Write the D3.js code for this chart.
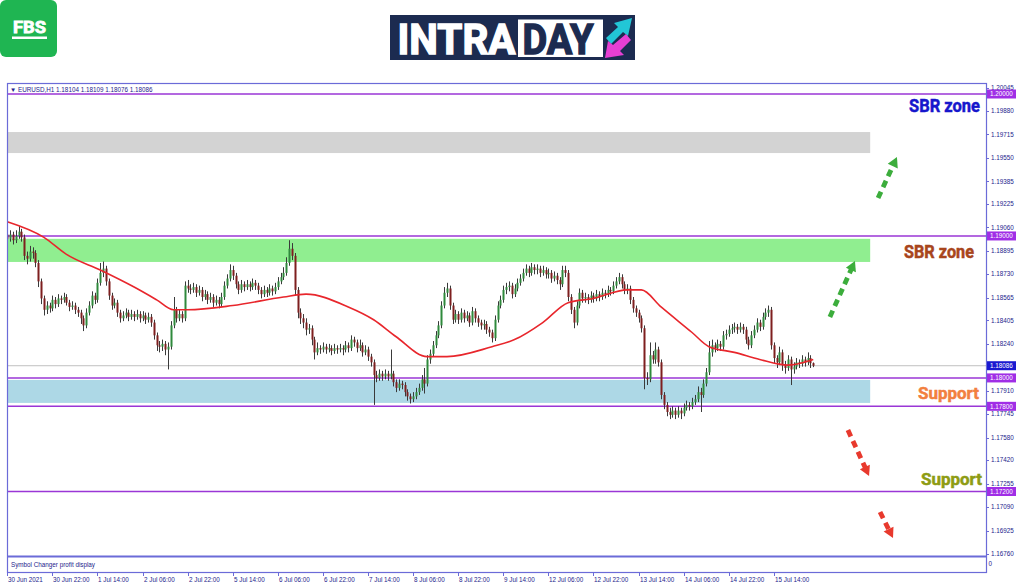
<!DOCTYPE html>
<html>
<head>
<meta charset="utf-8">
<script src="https://cdn.jsdelivr.net/npm/d3@7"></script>
<style>
  body { margin: 0; background: #fff; }
  svg { display: block; font-family: "Liberation Sans", Arial, sans-serif; }
  .axis-text { font-size: 6.3px; fill: #24248c; }
  .note { font-family: Roboto, "Liberation Sans", sans-serif; font-weight: 700; }
</style>
</head>
<body>
<svg width="1024" height="587"></svg>
<script>
"use strict";

// EURUSD H1, 30 Jun 2021 -> 16 Jul 2021
const firstOpen = 1.1901;
const closes = [
  1.1898,1.1901,1.1897,1.1900,1.1903,1.1899,1.1886,1.1884,1.1889,1.1888,
  1.1881,1.1868,1.1856,1.1848,1.1851,1.1849,1.1855,1.1852,1.1856,1.1855,
  1.1857,1.1853,1.1850,1.1851,1.1848,1.1846,1.1842,1.1837,1.1846,1.1851,
  1.1858,1.1855,1.1867,1.1874,1.1877,1.1868,1.1858,1.1851,1.1853,1.1846,
  1.1842,1.1844,1.1846,1.1843,1.1845,1.1843,1.1845,1.1842,1.1844,1.1841,
  1.1843,1.1839,1.1830,1.1823,1.1822,1.1824,1.1820,1.1822,1.1837,1.1848,
  1.1842,1.1845,1.1842,1.1865,1.1863,1.1862,1.1864,1.1860,1.1862,1.1857,
  1.1859,1.1855,1.1857,1.1853,1.1855,1.1852,1.1857,1.1865,1.1870,1.1876,
  1.1872,1.1866,1.1862,1.1866,1.1864,1.1866,1.1864,1.1867,1.1865,1.1862,
  1.1859,1.1862,1.1860,1.1863,1.1861,1.1864,1.1868,1.1871,1.1874,1.1881,
  1.1891,1.1886,1.1862,1.1846,1.1842,1.1839,1.1834,1.1835,1.1827,1.1818,
  1.1821,1.1820,1.1822,1.1820,1.1821,1.1819,1.1821,1.1820,1.1821,1.1820,
  1.1823,1.1821,1.1827,1.1825,1.1821,1.1823,1.1818,1.1820,1.1815,1.1811,
  1.1802,1.1800,1.1803,1.1801,1.1803,1.1801,1.1803,1.1797,1.1793,1.1796,
  1.1795,1.1790,1.1787,1.1785,1.1787,1.1790,1.1793,1.1799,1.1796,1.1813,
  1.1817,1.1823,1.1830,1.1837,1.1851,1.1860,1.1863,1.1851,1.1841,1.1845,
  1.1841,1.1846,1.1842,1.1844,1.1839,1.1847,1.1842,1.1839,1.1837,1.1838,
  1.1834,1.1832,1.1828,1.1841,1.1851,1.1855,1.1862,1.1864,1.1865,1.1859,
  1.1863,1.1867,1.1870,1.1874,1.1877,1.1874,1.1878,1.1876,1.1877,1.1874,
  1.1876,1.1873,1.1874,1.1870,1.1872,1.1869,1.1866,1.1876,1.1874,1.1857,
  1.1848,1.1839,1.1851,1.1860,1.1856,1.1857,1.1855,1.1858,1.1856,1.1859,
  1.1857,1.1860,1.1859,1.1862,1.1861,1.1865,1.1868,1.1871,1.1866,1.1862,
  1.1863,1.1855,1.1849,1.1846,1.1842,1.1835,1.1800,1.1799,1.1816,1.1813,
  1.1820,1.1811,1.1788,1.1781,1.1776,1.1774,1.1777,1.1774,1.1777,1.1775,
  1.1779,1.1781,1.1780,1.1783,1.1785,1.1790,1.1788,1.1796,1.1804,1.1818,
  1.1823,1.1821,1.1824,1.1822,1.1830,1.1831,1.1834,1.1835,1.1836,1.1834,
  1.1836,1.1834,1.1827,1.1823,1.1830,1.1834,1.1839,1.1836,1.1843,1.1846,
  1.1848,1.1823,1.1814,1.1811,1.1818,1.1809,1.1807,1.1813,1.1806,1.1808,
  1.1811,1.1810,1.1813,1.1811,1.1814,1.18104,1.18086
];
const highs = [
  1.1904,1.1904,1.1903,1.1904,1.1907,1.1905,1.1901,1.1889,1.1893,1.1892,
  1.1890,1.1883,1.1870,1.1858,1.1854,1.1853,1.1858,1.1857,1.1859,1.1858,
  1.1860,1.1859,1.1855,1.1854,1.1853,1.1850,1.1848,1.1844,1.1849,1.1854,
  1.1861,1.1860,1.1870,1.1881,1.1882,1.1879,1.1870,1.1860,1.1856,1.1855,
  1.1848,1.1847,1.1849,1.1848,1.1848,1.1847,1.1848,1.1847,1.1847,1.1846,
  1.1846,1.1845,1.1841,1.1832,1.1826,1.1827,1.1826,1.1825,1.1840,1.1857,
  1.1850,1.1848,1.1847,1.1868,1.1869,1.1866,1.1867,1.1866,1.1865,1.1864,
  1.1862,1.1861,1.1860,1.1859,1.1858,1.1857,1.1860,1.1868,1.1873,1.1880,
  1.1879,1.1874,1.1868,1.1869,1.1868,1.1869,1.1868,1.1870,1.1869,1.1867,
  1.1864,1.1865,1.1864,1.1866,1.1865,1.1867,1.1871,1.1874,1.1878,1.1885,
  1.1897,1.1895,1.1888,1.1864,1.1849,1.1845,1.1842,1.1838,1.1837,1.1829,
  1.1825,1.1823,1.1825,1.1824,1.1824,1.1823,1.1824,1.1823,1.1824,1.1823,
  1.1826,1.1825,1.1830,1.1829,1.1827,1.1827,1.1825,1.1823,1.1822,1.1817,
  1.1813,1.1805,1.1806,1.1805,1.1806,1.1805,1.1820,1.1805,1.1799,1.1799,
  1.1798,1.1797,1.1792,1.1789,1.1790,1.1793,1.1796,1.1802,1.1807,1.1816,
  1.1820,1.1826,1.1833,1.1840,1.1854,1.1864,1.1867,1.1865,1.1853,1.1848,
  1.1847,1.1849,1.1848,1.1847,1.1846,1.1850,1.1849,1.1844,1.1841,1.1841,
  1.1840,1.1836,1.1834,1.1844,1.1854,1.1858,1.1865,1.1867,1.1868,1.1867,
  1.1866,1.1870,1.1873,1.1877,1.1880,1.1879,1.1881,1.1880,1.1880,1.1879,
  1.1879,1.1878,1.1877,1.1876,1.1875,1.1874,1.1871,1.1879,1.1879,1.1876,
  1.1859,1.1850,1.1854,1.1863,1.1862,1.1860,1.1859,1.1861,1.1860,1.1862,
  1.1861,1.1863,1.1862,1.1865,1.1864,1.1868,1.1871,1.1874,1.1873,1.1868,
  1.1866,1.1865,1.1857,1.1851,1.1848,1.1844,1.1837,1.1804,1.1825,1.1819,
  1.1825,1.1822,1.1813,1.1790,1.1783,1.1779,1.1780,1.1779,1.1780,1.1779,
  1.1782,1.1784,1.1783,1.1786,1.1788,1.1794,1.1793,1.1799,1.1807,1.1826,
  1.1827,1.1825,1.1827,1.1826,1.1833,1.1834,1.1837,1.1838,1.1839,1.1838,
  1.1839,1.1838,1.1836,1.1829,1.1833,1.1837,1.1842,1.1841,1.1846,1.1849,
  1.1851,1.1850,1.1825,1.1816,1.1822,1.1820,1.1812,1.1816,1.1815,1.1811,
  1.1814,1.1813,1.1816,1.1815,1.1818,1.1816,1.18109
];
const lows = [
  1.1895,1.1896,1.1894,1.1895,1.1898,1.1896,1.1883,1.1880,1.1882,1.1884,
  1.1878,1.1864,1.1852,1.1844,1.1845,1.1846,1.1847,1.1849,1.1850,1.1852,
  1.1853,1.1851,1.1847,1.1848,1.1845,1.1843,1.1838,1.1833,1.1835,1.1844,
  1.1849,1.1852,1.1853,1.1865,1.1871,1.1865,1.1855,1.1848,1.1849,1.1843,
  1.1839,1.1840,1.1842,1.1840,1.1841,1.1840,1.1841,1.1839,1.1840,1.1838,
  1.1839,1.1836,1.1827,1.1819,1.1818,1.1819,1.1816,1.1806,1.1820,1.1835,
  1.1839,1.1840,1.1839,1.1840,1.1860,1.1859,1.1860,1.1857,1.1858,1.1854,
  1.1855,1.1852,1.1853,1.1850,1.1851,1.1849,1.1850,1.1855,1.1863,1.1868,
  1.1869,1.1863,1.1859,1.1860,1.1861,1.1862,1.1861,1.1862,1.1862,1.1859,
  1.1856,1.1857,1.1857,1.1858,1.1858,1.1859,1.1862,1.1866,1.1869,1.1872,
  1.1879,1.1883,1.1858,1.1842,1.1838,1.1835,1.1830,1.1831,1.1823,1.1813,
  1.1816,1.1817,1.1818,1.1817,1.1818,1.1816,1.1817,1.1817,1.1818,1.1816,
  1.1818,1.1818,1.1819,1.1822,1.1818,1.1819,1.1815,1.1816,1.1812,1.1808,
  1.1781,1.1797,1.1798,1.1798,1.1799,1.1798,1.1799,1.1794,1.1790,1.1791,
  1.1792,1.1787,1.1784,1.1782,1.1783,1.1785,1.1788,1.1791,1.1789,1.1794,
  1.1810,1.1815,1.1821,1.1828,1.1835,1.1849,1.1857,1.1848,1.1838,1.1839,
  1.1838,1.1839,1.1839,1.1840,1.1836,1.1837,1.1839,1.1836,1.1834,1.1834,
  1.1831,1.1829,1.1825,1.1826,1.1839,1.1849,1.1853,1.1859,1.1861,1.1856,
  1.1857,1.1861,1.1865,1.1868,1.1872,1.1871,1.1872,1.1873,1.1873,1.1871,
  1.1872,1.1870,1.1870,1.1867,1.1868,1.1866,1.1862,1.1864,1.1871,1.1854,
  1.1845,1.1835,1.1837,1.1849,1.1853,1.1853,1.1852,1.1853,1.1853,1.1854,
  1.1854,1.1855,1.1856,1.1857,1.1858,1.1859,1.1863,1.1866,1.1863,1.1859,
  1.1859,1.1852,1.1846,1.1843,1.1839,1.1832,1.1792,1.1795,1.1797,1.1810,
  1.1810,1.1808,1.1785,1.1778,1.1773,1.1771,1.1772,1.1771,1.1772,1.1771,
  1.1773,1.1777,1.1777,1.1778,1.1781,1.1783,1.1776,1.1786,1.1794,1.1802,
  1.1815,1.1818,1.1819,1.1819,1.1820,1.1827,1.1829,1.1831,1.1832,1.1831,
  1.1832,1.1831,1.1824,1.1820,1.1821,1.1828,1.1832,1.1833,1.1834,1.1841,
  1.1843,1.1820,1.1810,1.1807,1.1809,1.1805,1.1803,1.1805,1.1795,1.1803,
  1.1806,1.1807,1.1808,1.1808,1.1809,1.1807,1.18076
];

// moving average (red), read at some bars
const maIndex = [0, 13, 21, 33, 45, 53, 59, 64, 80, 98, 106, 121, 130, 138, 149, 156,
  172, 180, 190, 199, 208, 220, 225, 232, 243, 249, 258, 267, 277, 286];
const maValue = [1.1910, 1.1899, 1.1887, 1.1876, 1.1864, 1.1855, 1.1848, 1.1848, 1.1851,
  1.1857, 1.1859, 1.1850, 1.1841, 1.1829, 1.1815, 1.1815, 1.1822, 1.1827, 1.1839, 1.1853,
  1.1856, 1.1862, 1.1862, 1.1850, 1.1832, 1.1822, 1.1818, 1.1813, 1.1809, 1.1813];

const timeTickIndex = [0, 16, 32, 48, 64, 80, 96, 112, 128, 144, 160, 176, 192, 208, 224, 240, 256, 272];
const timeLabels = ["30 Jun 2021", "30 Jun 22:00", "1 Jul 14:00", "2 Jul 06:00", "2 Jul 22:00",
  "5 Jul 14:00", "6 Jul 06:00", "6 Jul 22:00", "7 Jul 14:00", "8 Jul 06:00", "8 Jul 22:00",
  "9 Jul 14:00", "12 Jul 06:00", "12 Jul 22:00", "13 Jul 14:00", "14 Jul 06:00",
  "14 Jul 22:00", "15 Jul 14:00"];
const priceTicks = [1.20045, 1.19880, 1.19715, 1.19550, 1.19385, 1.19225, 1.19060, 1.18895,
  1.18730, 1.18565, 1.18405, 1.18240, 1.17910, 1.17745, 1.17580, 1.17420, 1.17255,
  1.17090, 1.16925, 1.16760];
const levelPrices = [1.20000, 1.19000, 1.18000, 1.17800, 1.17200];
const currentPrice = 1.18086;
const header = "EURUSD,H1  1.18104 1.18109 1.18076 1.18086";

// zones: top / bottom price, right end (bar index)
const zoneTop = [1.19732, 1.18980, 1.17986];
const zoneBottom = [1.19584, 1.18817, 1.17824];
const zoneEnd = 306.2;

// annotations
const noteTexts = ["SBR zone", "SBR zone", "Support", "Support"];
const notePrices = [1.19873, 1.18845, 1.17852, 1.17246];
const arrowFrom = [[309.0, 1.19267], [291.9, 1.18429], [298.3, 1.17633], [309.7, 1.17056]];
const arrowTo = [[315.7, 1.19556], [300.8, 1.18824], [305.8, 1.17309], [314.3, 1.16872]];

const svg = d3.select("svg");
const frame = { left: 7, right: 986, top: 83, main: 556, sub: 572 };
const frameColor = "#6b6bd8";

const x = d3.scaleLinear().domain([0, 272]).range([7.3, 773.8]);
const y = d3.scaleLinear().domain([1.172, 1.2]).range([491.5, 94]);

// ---------- logos ----------
const fbs = svg.append("g");
fbs.append("rect").attr("x", 0).attr("y", 0).attr("width", 57).attr("height", 57)
  .attr("rx", 6).attr("fill", "#1fb552");
fbs.append("text").attr("x", 29.5).attr("y", 33).attr("text-anchor", "middle")
  .attr("fill", "#fff").attr("stroke", "#fff").attr("stroke-width", 0.8)
  .attr("font-family", "Roboto, sans-serif").attr("font-weight", 700)
  .attr("font-size", 17).attr("textLength", 33).attr("lengthAdjust", "spacingAndGlyphs").text("FBS");
fbs.append("rect").attr("x", 12).attr("y", 36.5).attr("width", 35).attr("height", 2.5).attr("fill", "#fff");

const intra = svg.append("g");
intra.append("rect").attr("x", 390).attr("y", 15).attr("width", 245).attr("height", 45).attr("fill", "#1c2b50");
intra.append("rect").attr("x", 518).attr("y", 19.5).attr("width", 85).attr("height", 37.5).attr("fill", "#fff");
intra.append("text").attr("x", 397.5).attr("y", 53.5).attr("fill", "#fff")
  .attr("stroke", "#fff").attr("stroke-width", 1.4)
  .attr("font-family", "Roboto, sans-serif").attr("font-weight", 700).attr("font-size", 42)
  .attr("textLength", 118).attr("lengthAdjust", "spacingAndGlyphs").text("INTRA");
intra.append("text").attr("x", 522.5).attr("y", 53.5).attr("fill", "#1c2b50")
  .attr("stroke", "#1c2b50").attr("stroke-width", 1.4)
  .attr("font-family", "Roboto, sans-serif").attr("font-weight", 700).attr("font-size", 42)
  .attr("textLength", 71).attr("lengthAdjust", "spacingAndGlyphs").text("DAY");
intra.append("polygon").attr("fill", "#22c6d6")
  .attr("points", "606,38 618,27 614,23 632,18 628,36 623,32 611,44");
intra.append("polygon").attr("fill", "#e63fd3")
  .attr("points", "631,40 620,51 624,55 605,58 608,41 613,45 626,34");

// ---------- chart ----------
svg.append("clipPath").attr("id", "plot-clip")
  .append("rect").attr("x", frame.left).attr("y", frame.top)
  .attr("width", frame.right - frame.left).attr("height", frame.main - frame.top);

const plot = svg.append("g").attr("clip-path", "url(#plot-clip)");
const zoneColors = ["#d3d3d3", "#90ee90", "#add8e6"];

plot.selectAll(".zone").data(zoneTop).enter().append("rect")
  .attr("class", "zone")
  .attr("x", frame.left)
  .attr("y", d => y(d))
  .attr("width", x(zoneEnd) - frame.left)
  .attr("height", (d, i) => y(zoneBottom[i]) - y(d))
  .attr("fill", (d, i) => zoneColors[i]);

plot.append("line")
  .attr("x1", frame.left).attr("x2", frame.right)
  .attr("y1", y(currentPrice)).attr("y2", y(currentPrice))
  .attr("stroke", "#c0c0c0").attr("stroke-width", 1);

plot.selectAll(".level").data(levelPrices).enter().append("line")
  .attr("class", "level")
  .attr("x1", frame.left).attr("x2", frame.right)
  .attr("y1", d => y(d)).attr("y2", d => y(d))
  .attr("stroke", "#9a36d6").attr("stroke-width", 1.6);

const candles = closes.map((c, i) => ({
  i,
  o: i === 0 ? firstOpen : closes[i - 1],
  h: highs[i],
  l: lows[i],
  c
}));

const cg = plot.append("g");
cg.selectAll(".wick").data(candles).enter().append("line")
  .attr("class", "wick")
  .attr("x1", d => Math.round(x(d.i)) + 0.5)
  .attr("x2", d => Math.round(x(d.i)) + 0.5)
  .attr("y1", d => y(d.h)).attr("y2", d => y(d.l))
  .attr("stroke", "#3a3a3a").attr("stroke-width", 1);

cg.selectAll(".body").data(candles).enter().append("rect")
  .attr("class", "body")
  .attr("x", d => Math.round(x(d.i)) - 0.5)
  .attr("width", 2)
  .attr("y", d => y(Math.max(d.o, d.c)))
  .attr("height", d => Math.max(1, Math.abs(y(d.o) - y(d.c))))
  .attr("fill", d => d.c >= d.o ? "#2f8a3c" : "#7e1f1f");

const maLine = d3.line()
  .x(d => x(d[0]))
  .y(d => y(d[1]))
  .curve(d3.curveMonotoneX);

plot.append("path")
  .datum(maIndex.map((d, i) => [d, maValue[i]]))
  .attr("d", maLine)
  .attr("fill", "none")
  .attr("stroke", "#e8262c")
  .attr("stroke-width", 1.6);

// dashed arrows
const arrowColors = ["#3cad3c", "#3cad3c", "#e8392d", "#e8392d"];
arrowFrom.forEach((f, k) => {
  const x0 = x(f[0]), y0 = y(f[1]);
  const x1 = x(arrowTo[k][0]), y1 = y(arrowTo[k][1]);
  const len = Math.hypot(x1 - x0, y1 - y0);
  const ux = (x1 - x0) / len, uy = (y1 - y0) / len;
  const head = 10, half = 5.5;
  const bx = x1 - ux * head, by = y1 - uy * head;
  plot.append("line")
    .attr("x1", x0).attr("y1", y0).attr("x2", bx + ux * 1).attr("y2", by + uy * 1)
    .attr("stroke", arrowColors[k]).attr("stroke-width", 4.8)
    .attr("stroke-dasharray", "7,5");
  plot.append("polygon")
    .attr("points", [[x1, y1], [bx - uy * half, by + ux * half], [bx + uy * half, by - ux * half]]
      .map(p => p.join(",")).join(" "))
    .attr("fill", arrowColors[k]);
});

// notes
const noteColors = ["#1616cc", "#a8451c", "#f2803f", "#8e9c14"];
const noteRight = [980, 974, 979, 982];
const noteWidth = [71, 70, 61, 61];
const noteSize = [19, 18, 17, 17];
plot.selectAll(".note").data(noteTexts).enter().append("text")
  .attr("class", "note")
  .attr("x", (d, i) => noteRight[i] - noteWidth[i])
  .attr("y", (d, i) => y(notePrices[i]))
  .attr("font-size", (d, i) => noteSize[i])
  .attr("textLength", (d, i) => noteWidth[i])
  .attr("lengthAdjust", "spacingAndGlyphs")
  .attr("fill", (d, i) => noteColors[i])
  .attr("stroke", (d, i) => noteColors[i])
  .attr("stroke-width", 0.5)
  .text(d => d);

// header
svg.append("text").attr("class", "axis-text").attr("x", 10).attr("y", 91.5)
  .text("\u25BC " + header);

// frame
const fr = svg.append("g").attr("fill", "none").attr("stroke", frameColor);
fr.append("rect").attr("x", frame.left + 0.5).attr("y", frame.top + 0.5)
  .attr("width", frame.right - frame.left).attr("height", frame.sub - frame.top)
  .attr("stroke-width", 1.2);
fr.append("line").attr("x1", frame.left).attr("x2", frame.right + 0.5)
  .attr("y1", frame.main + 0.5).attr("y2", frame.main + 0.5).attr("stroke-width", 2);

svg.append("text").attr("class", "axis-text").attr("x", 11).attr("y", 566.5)
  .text("Symbol Changer profit display");
svg.append("text").attr("class", "axis-text").attr("x", 988.5).attr("y", 566).text("0");

// price axis
const pa = svg.append("g");
pa.selectAll(".ptick").data(priceTicks).enter().append("line")
  .attr("x1", frame.right).attr("x2", frame.right + 3)
  .attr("y1", d => Math.round(y(d)) + 0.5).attr("y2", d => Math.round(y(d)) + 0.5)
  .attr("stroke", frameColor);
pa.selectAll(".plabel").data(priceTicks).enter().append("text")
  .attr("class", "axis-text")
  .attr("x", 991).attr("y", d => y(d) + 2.2)
  .text(d => d.toFixed(5));

const tagged = levelPrices.map(p => ({ p, color: "#a02ee6" }))
  .concat([{ p: currentPrice, color: "#1a1ad0" }]);
const tag = pa.selectAll(".tag").data(tagged).enter().append("g");
tag.append("rect")
  .attr("x", 987).attr("y", d => y(d.p) - 4.5)
  .attr("width", 29).attr("height", 9)
  .attr("fill", d => d.color);
tag.append("text")
  .attr("class", "axis-text")
  .attr("x", 990).attr("y", d => y(d.p) + 2.2)
  .style("fill", "#fff")
  .text(d => d.p.toFixed(5));

// time axis
const ta = svg.append("g");
ta.selectAll(".ttick").data(timeTickIndex).enter().append("line")
  .attr("x1", d => Math.round(x(d)) + 0.5).attr("x2", d => Math.round(x(d)) + 0.5)
  .attr("y1", frame.sub).attr("y2", frame.sub + 4)
  .attr("stroke", frameColor);
ta.selectAll(".tlabel").data(timeTickIndex).enter().append("text")
  .attr("class", "axis-text")
  .attr("x", d => Math.round(x(d)) + 1)
  .attr("y", 581.5)
  .text((d, i) => timeLabels[i]);
</script>
</body>
</html>
